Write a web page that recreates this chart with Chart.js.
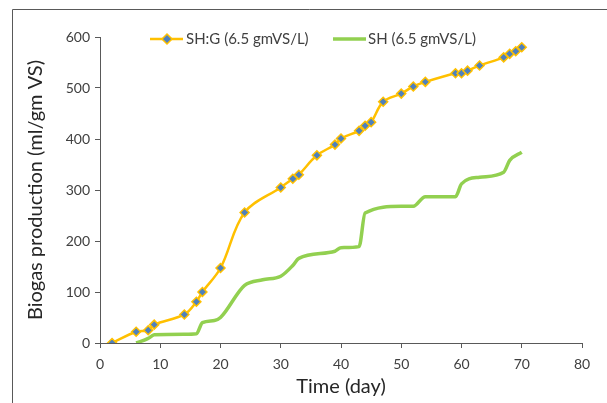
<!DOCTYPE html>
<html>
<head>
<meta charset="utf-8">
<script src="https://cdn.jsdelivr.net/npm/chart.js@4"></script>
<style>
  html, body { margin: 0; padding: 0; background: #fff; }
  #wrap { width: 607px; height: 403px; }
</style>
</head>
<body>
<div id="wrap"><canvas id="c" width="607" height="403"></canvas></div>
<script>
// days and values
const shgDays = [2, 6, 8, 9, 14, 16, 17, 20, 24, 30, 32, 33, 36, 39, 40, 43, 44, 45, 47, 50, 52, 54, 59, 60, 61, 63, 67, 68, 69, 70];
const shgValues = [0, 22, 25, 36, 56, 81, 100, 147, 256, 305, 322, 330, 368, 389, 401, 416, 426, 433, 473, 489, 503, 512, 529, 529, 534, 544, 560, 567, 572, 580];

const shDays = [6, 8, 9, 14, 16, 17, 19, 20, 24, 27, 30, 32, 33, 39, 40, 43, 44, 50, 52, 54, 59, 60, 63, 67, 68, 70];
const shValues = [0, 9, 16, 17, 18, 40, 44, 50, 113, 124, 131, 152, 166, 180, 187, 189, 255, 268, 268, 287, 287, 312, 325, 335, 358, 374];

const xTicks = [0, 10, 20, 30, 40, 50, 60, 70, 80];
const yTicks = [0, 100, 200, 300, 400, 500, 600];

const FONT = "Lato, 'Open Sans', sans-serif";
const YELLOW = "#FFC000";
const GREEN = "#92D050";
const BLUE = "#4F81BD";

function pairs(xs, ys) {
  return xs.map((x, i) => ({ x: x, y: ys[i] }));
}

// frame and in-plot legend, like the source picture
const extras = {
  id: "extras",
  afterDraw(chart) {
    const ctx = chart.ctx;
    ctx.save();
    ctx.strokeStyle = "#595959";
    ctx.lineWidth = 1;
    ctx.beginPath();
    ctx.moveTo(12.5, 403);
    ctx.lineTo(12.5, 9.5);
    ctx.lineTo(607, 9.5);
    ctx.stroke();

    const y = 39;
    ctx.font = "15px " + FONT;
    ctx.fillStyle = "#404040";
    ctx.textBaseline = "middle";
    const ds = chart.data.datasets;

    // first entry: line with diamond
    ctx.strokeStyle = YELLOW;
    ctx.lineWidth = 2.5;
    ctx.beginPath();
    ctx.moveTo(150, y);
    ctx.lineTo(183, y);
    ctx.stroke();
    ctx.fillStyle = BLUE;
    ctx.strokeStyle = YELLOW;
    ctx.lineWidth = 1.5;
    ctx.beginPath();
    ctx.moveTo(167, y - 5);
    ctx.lineTo(172, y);
    ctx.lineTo(167, y + 5);
    ctx.lineTo(162, y);
    ctx.closePath();
    ctx.fill();
    ctx.stroke();
    ctx.fillStyle = "#404040";
    ctx.fillText(ds[0].label, 186, y);

    // second entry: plain line
    ctx.strokeStyle = GREEN;
    ctx.lineWidth = 3.5;
    ctx.beginPath();
    ctx.moveTo(333, y);
    ctx.lineTo(366, y);
    ctx.stroke();
    ctx.fillText(ds[1].label, 368, y);
    ctx.restore();
  }
};

new Chart(document.getElementById("c"), {
  type: "line",
  data: {
    datasets: [
      {
        label: "SH:G (6.5 gmVS/L)",
        data: pairs(shgDays, shgValues),
        borderColor: YELLOW,
        borderWidth: 2.5,
        backgroundColor: BLUE,
        pointStyle: "rectRot",
        pointRadius: 4.5,
        pointBorderColor: YELLOW,
        pointBorderWidth: 1.5,
        pointBackgroundColor: BLUE,
        tension: 0.35,
        fill: false,
        order: 1
      },
      {
        label: "SH (6.5 gmVS/L)",
        data: pairs(shDays, shValues),
        borderColor: GREEN,
        borderWidth: 3.5,
        pointRadius: 0,
        cubicInterpolationMode: "monotone",
        fill: false,
        order: 2
      }
    ]
  },
  options: {
    responsive: false,
    animation: false,
    layout: { padding: { left: 20, right: 25, top: 37, bottom: 0 } },
    plugins: {
      legend: { display: false },
      tooltip: { enabled: false }
    },
    scales: {
      x: {
        type: "linear",
        min: 0,
        max: 80,
        afterFit(s) { s.height = 60; },
        afterBuildTicks(s) { s.ticks = xTicks.map(v => ({ value: v })); },
        grid: { drawOnChartArea: false, drawTicks: true, tickLength: 5, color: "#595959" },
        border: { color: "#595959", width: 1 },
        ticks: { color: "#404040", font: { family: FONT, size: 14 }, padding: 8 },
        title: { display: true, text: "Time (day)", color: "#262626", font: { family: FONT, size: 20 }, padding: { top: 0 } }
      },
      y: {
        min: 0,
        max: 600,
        afterFit(s) { s.width = 80; },
        afterBuildTicks(s) { s.ticks = yTicks.map(v => ({ value: v })); },
        grid: { drawOnChartArea: false, drawTicks: true, tickLength: 5, color: "#595959" },
        border: { color: "#595959", width: 1 },
        ticks: { color: "#404040", font: { family: FONT, size: 14 }, padding: 5 },
        title: { display: true, text: "Biogas production (ml/gm VS)", color: "#262626", font: { family: FONT, size: 20 }, padding: { bottom: 2 } }
      }
    }
  },
  plugins: [extras]
});
</script>
</body>
</html>
